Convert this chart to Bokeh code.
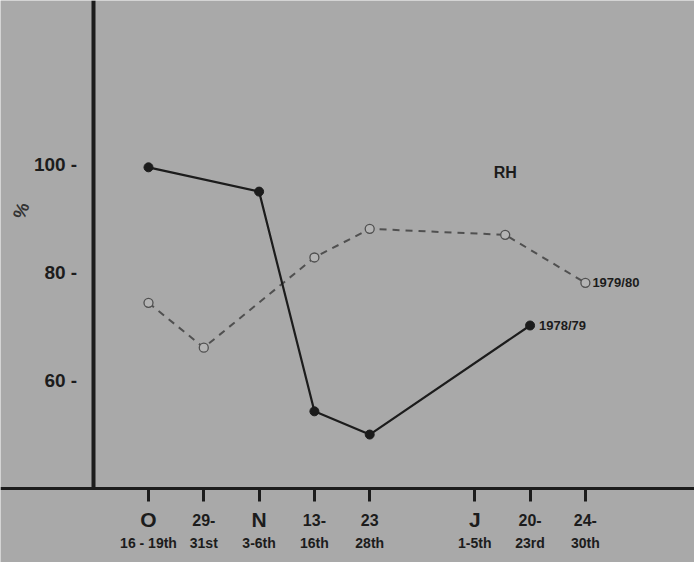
from bokeh.plotting import figure
from bokeh.models import FixedTicker, Range1d, Label, ColumnDataSource
from bokeh.core.properties import value
from bokeh.embed import file_html
from bokeh.resources import INLINE

# ---- data ----
tick_pos = [0, 1, 2, 3, 4, 5.9, 6.9, 7.9]
tick_top = ["O", "29-", "N", "13-", "23", "J", "20-", "24-"]
tick_bottom = ["16 - 19th", "31st", "3-6th", "16th", "28th", "1-5th", "23rd", "30th"]

x_7879 = [0, 2, 3, 4, 6.9]
rh_7879 = [99.5, 95.0, 54.3, 50.0, 70.2]

x_7980 = [0, 1, 3, 4, 6.45, 7.9]
rh_7980 = [74.4, 66.1, 82.8, 88.1, 87.0, 78.1]

y_ticks = [60, 80, 100]
y_labels = ["60 -", "80 -", "100 -"]

# ---- styling ----
BG = "#a9a9a9"
INK = "#1c1c1c"
FONT = "Liberation Sans"

p = figure(width=694, height=562,
           x_range=Range1d(-2.676, 9.873), y_range=Range1d(26.3, 130.4),
           output_backend="svg", toolbar_location=None,
           min_border=0, background_fill_color=BG, border_fill_color=BG,
           outline_line_color=None)
p.grid.visible = False

# x axis
p.xaxis.fixed_location = 40
p.xaxis.ticker = FixedTicker(ticks=tick_pos)
p.xaxis.axis_line_width = 3
p.xaxis.axis_line_color = INK
p.xaxis.major_tick_out = 13
p.xaxis.major_tick_in = 0
p.xaxis.major_tick_line_width = 3
p.xaxis.major_tick_line_color = INK
p.xaxis.minor_tick_line_color = None
p.xaxis.major_label_text_color = None

# y axis
p.yaxis.fixed_location = -1
p.yaxis.bounds = (40, 131)
p.yaxis.ticker = FixedTicker(ticks=y_ticks)
p.yaxis.major_label_overrides = {t: l for t, l in zip(y_ticks, y_labels)}
p.yaxis.axis_line_width = 4
p.yaxis.axis_line_color = INK
p.yaxis.major_tick_line_color = None
p.yaxis.minor_tick_line_color = None
p.yaxis.major_label_standoff = 10
p.yaxis.major_label_text_font = FONT
p.yaxis.major_label_text_font_size = "19px"
p.yaxis.major_label_text_font_style = "bold"
p.yaxis.major_label_text_color = INK

# x tick labels (two lines)
top_src = ColumnDataSource(dict(
    x=tick_pos, y=[40] * len(tick_pos), text=tick_top,
    size=["21px" if t.isalpha() else "16px" for t in tick_top]))
p.text(x="x", y="y", text="text", source=top_src, y_offset=31,
       text_align="center", text_baseline="middle",
       text_font=value(FONT), text_font_size="size", text_font_style="bold",
       text_color=INK)
bot_src = ColumnDataSource(dict(x=tick_pos, y=[40] * len(tick_pos), text=tick_bottom))
p.text(x="x", y="y", text="text", source=bot_src, y_offset=54,
       text_align="center", text_baseline="middle",
       text_font=value(FONT), text_font_size="14px", text_font_style="bold",
       text_color=INK)

# 1979/80 dashed series
p.line(x_7980, rh_7980, line_color="#505050", line_width=2, line_dash="7 6")
p.scatter(x_7980, rh_7980, size=9, marker="circle", line_color="#505050",
          line_width=1.3, fill_color="#b4b4b4")

# 1978/79 solid series
p.line(x_7879, rh_7879, line_color=INK, line_width=2.2)
p.scatter(x_7879, rh_7879, size=9, marker="circle", line_color=INK, fill_color=INK)

# series labels
p.add_layout(Label(x=x_7980[-1], y=rh_7980[-1], text="1979/80", x_offset=7,
                   text_baseline="middle", text_font=FONT, text_font_size="13px",
                   text_font_style="bold", text_color=INK))
p.add_layout(Label(x=x_7879[-1], y=rh_7879[-1], text="1978/79", x_offset=9,
                   text_baseline="middle", text_font=FONT, text_font_size="13px",
                   text_font_style="bold", text_color=INK))
p.add_layout(Label(x=6.45, y=98.5, text="RH", text_align="center",
                   text_baseline="middle", text_font=FONT, text_font_size="16px",
                   text_font_style="bold", text_color=INK))
p.add_layout(Label(x=-2.3, y=91.5, text="%", text_align="center", angle=1.2,
                   text_baseline="middle", text_font=FONT, text_font_size="18px",
                   text_font_style="bold", text_color="#333333"))

open("out.html", "w").write(file_html(p, INLINE))
